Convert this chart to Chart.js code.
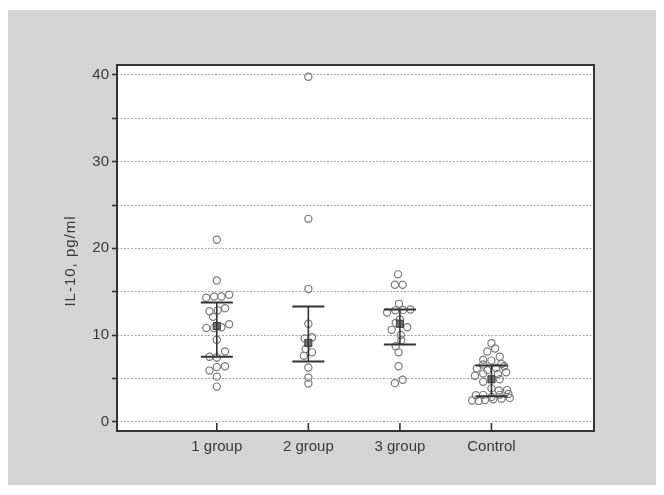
<!DOCTYPE html>
<html>
<head>
<meta charset="utf-8">
<script src="https://cdn.jsdelivr.net/npm/chart.js@4.4.1/dist/chart.umd.min.js"></script>
<style>
  html, body { margin: 0; padding: 0; background: #ffffff; }
  #wrap { width: 664px; height: 495px; }
</style>
</head>
<body>
<div id="wrap"><canvas id="chart" width="664" height="495"></canvas></div>
<script>
// group names on the x axis
let categories = ['1 group', '2 group', '3 group', 'Control']

// mean and error bar ends for every group
let means = [11.05, 9.1, 11.3, 4.9]
let upperBars = [13.75, 13.3, 12.95, 6.5]
let lowerBars = [7.5, 6.95, 8.9, 2.95]

// single measurements, IL-10 in pg/ml
let group1Values = [21.0, 16.3, 14.3, 14.45, 14.45, 14.65, 12.75, 12.85, 13.1, 12.1, 10.8, 10.8, 10.9, 11.25, 9.45, 7.5, 7.4, 8.1, 5.9, 6.3, 6.4, 5.2, 4.05]
let group2Values = [39.8, 23.4, 15.3, 11.3, 9.6, 9.75, 8.4, 8.0, 7.6, 6.25, 5.1, 4.4]
let group3Values = [17.0, 15.8, 15.8, 13.6, 12.6, 12.85, 12.9, 12.95, 11.8, 11.4, 10.9, 10.6, 10.0, 9.4, 8.7, 8.0, 6.4, 4.45, 4.85]
let controlValues = [9.05, 8.1, 8.45, 7.15, 7.05, 7.5, 6.6, 6.65, 6.15, 5.95, 6.2, 6.4, 5.3, 5.55, 5.5, 5.7, 4.6, 4.9, 3.85, 3.6, 3.65, 3.05, 3.1, 2.85, 3.1, 3.2, 2.45, 2.4, 2.5, 2.6, 2.65, 2.75]

// sideways spread of the dots inside a group (dot plot jitter, in category units)
let group1Spread = [0, 0, -0.115, -0.03, 0.05, 0.135, -0.08, 0.01, 0.09, -0.04, -0.115, -0.03, 0.05, 0.135, 0, -0.08, 0, 0.09, -0.08, 0, 0.09, 0, 0]
let group2Spread = [0, 0, 0, 0, -0.04, 0.04, -0.03, 0.04, -0.05, 0, 0, 0]
let group3Spread = [-0.02, -0.055, 0.03, -0.01, -0.14, -0.05, 0.035, 0.115, 0, -0.045, 0.08, -0.09, 0.01, 0.015, -0.045, -0.015, -0.015, -0.055, 0.03]
let controlSpread = [0, -0.045, 0.04, -0.09, 0, 0.09, -0.09, 0.11, -0.16, -0.045, 0.05, 0.14, -0.18, -0.09, 0.07, 0.16, -0.09, 0.09, 0, 0.08, 0.17, -0.17, -0.09, 0, 0.09, 0.185, -0.21, -0.14, -0.07, 0.02, 0.11, 0.2]

// y axis ticks, labels only on the tens
let yTicks = [0, 5, 10, 15, 20, 25, 30, 35, 40]
let yTitle = 'IL-10, pg/ml'

let allValues = [group1Values, group2Values, group3Values, controlValues]
let allSpread = [group1Spread, group2Spread, group3Spread, controlSpread]

// turning the arrays into scatter points, group i sits at x = i + 1
let dotPoints = []
allValues.forEach(function(values, i) {
    values.forEach(function(v, j) {
        dotPoints.push({ x: i + 1 + allSpread[i][j], y: v })
    })
})
let meanPoints = means.map(function(m, i) { return { x: i + 1, y: m } })

let textColor = '#3a3a3a'
let fontFamily = '"Liberation Sans", Arial, sans-serif'

// grey card behind the chart, frame round the plot, error bars and the y title
let framePlugin = {
    id: 'frame',
    beforeDraw: function(chart) {
        let c = chart.ctx
        c.save()
        c.fillStyle = '#ffffff'
        c.fillRect(0, 0, chart.width, chart.height)
        c.fillStyle = '#d4d4d4'
        c.fillRect(8, 10, 648, 475)
        let a = chart.chartArea
        c.fillStyle = '#ffffff'
        c.fillRect(a.left, a.top, a.right - a.left, a.bottom - a.top)
        c.restore()
    },
    afterDatasetsDraw: function(chart) {
        let c = chart.ctx
        let a = chart.chartArea
        let xs = chart.scales.x
        let ys = chart.scales.y
        c.save()
        c.strokeStyle = '#333333'
        // error bars
        categories.forEach(function(name, i) {
            let px = xs.getPixelForValue(i + 1)
            let half = xs.getPixelForValue(i + 1.175) - px
            let top = ys.getPixelForValue(upperBars[i])
            let bottom = ys.getPixelForValue(lowerBars[i])
            c.lineWidth = 1.6
            c.beginPath()
            c.moveTo(px, top)
            c.lineTo(px, bottom)
            c.stroke()
            c.lineWidth = 2
            c.beginPath()
            c.moveTo(px - half, top)
            c.lineTo(px + half, top)
            c.moveTo(px - half, bottom)
            c.lineTo(px + half, bottom)
            c.stroke()
            // little tick going up from the bottom frame
            c.lineWidth = 1.6
            c.beginPath()
            c.moveTo(px, a.bottom)
            c.lineTo(px, a.bottom - 8)
            c.stroke()
        })
        c.lineWidth = 2
        c.strokeRect(a.left, a.top, a.right - a.left, a.bottom - a.top)

        // y axis title, sits a bit below the middle of the plot like the original
        c.translate(71, 261)
        c.rotate(-Math.PI / 2)
        c.fillStyle = textColor
        c.font = '15px ' + fontFamily
        c.letterSpacing = '1px'
        c.textAlign = 'center'
        c.textBaseline = 'middle'
        c.fillText(yTitle, 0, 0)
        c.restore()
    }
}

let ctx = document.getElementById('chart').getContext('2d')

let chart = new Chart(ctx, {
    type: 'scatter',
    data: {
        datasets: [
            {
                label: 'IL-10',
                data: dotPoints,
                pointStyle: 'circle',
                pointRadius: 3.6,
                pointBorderWidth: 1.2,
                pointBorderColor: '#7a7a7a',
                pointBackgroundColor: 'rgba(0,0,0,0)',
                order: 2
            },
            {
                label: 'Mean',
                data: meanPoints,
                pointStyle: 'rect',
                pointRadius: 5,
                pointBorderWidth: 1,
                pointBorderColor: '#3a3a3a',
                pointBackgroundColor: '#707070',
                order: 1
            }
        ]
    },
    options: {
        responsive: false,
        animation: false,
        layout: { padding: { left: 65, top: 65, right: 70, bottom: 0 } },
        plugins: {
            legend: { display: false },
            tooltip: { enabled: false }
        },
        scales: {
            x: {
                type: 'linear',
                min: -0.09,
                max: 5.12,
                afterBuildTicks: function(scale) {
                    scale.ticks = categories.map(function(n, i) { return { value: i + 1 } })
                },
                afterFit: function(scale) { scale.height = 64 },
                grid: { display: false, drawTicks: false },
                border: { display: false },
                ticks: {
                    padding: 7,
                    color: textColor,
                    font: { family: fontFamily, size: 15 },
                    callback: function(value) { return categories[Math.round(value) - 1] }
                }
            },
            y: {
                type: 'linear',
                min: -1.07,
                max: 41.15,
                afterBuildTicks: function(scale) {
                    scale.ticks = yTicks.map(function(v) { return { value: v } })
                },
                afterFit: function(scale) { scale.width = 52 },
                grid: {
                    color: '#ababab',
                    lineWidth: 1,
                    drawTicks: true,
                    tickLength: 5,
                    tickColor: '#333333',
                    tickWidth: 1.6,
                    tickBorderDash: []
                },
                border: { display: false, dash: [2, 1.5] },
                ticks: {
                    padding: 3,
                    color: textColor,
                    font: { family: fontFamily, size: 15 },
                    callback: function(value) { return value % 10 === 0 ? value : '' }
                }
            }
        }
    },
    plugins: [framePlugin]
})
</script>
</body>
</html>
